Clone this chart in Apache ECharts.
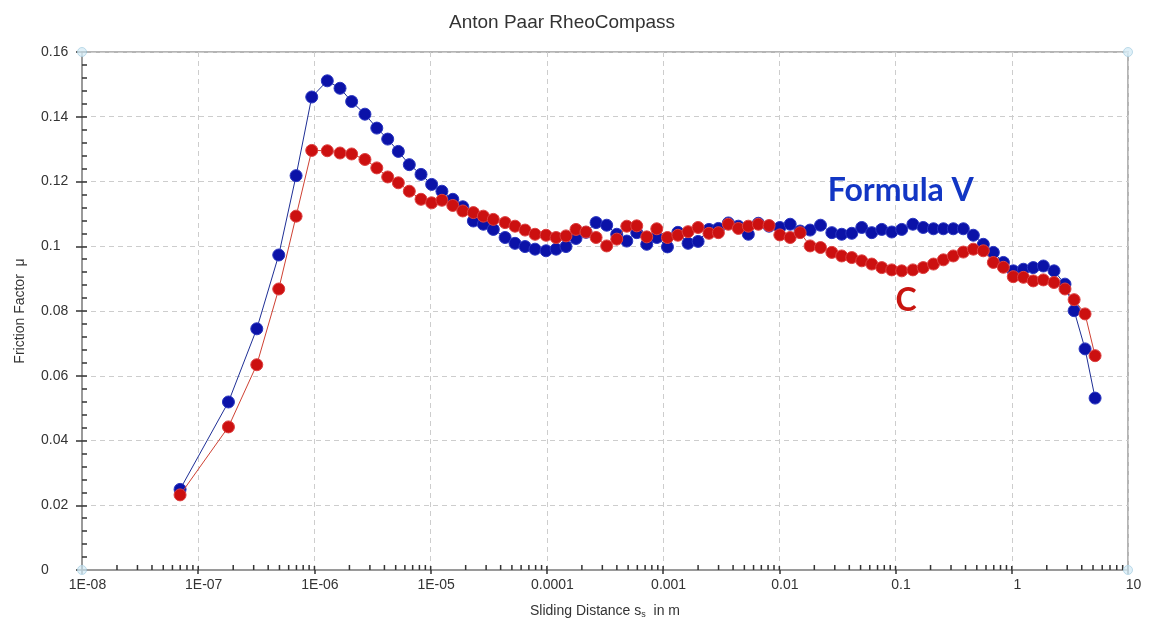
<!DOCTYPE html>
<html>
<head>
<meta charset="utf-8">
<title>Anton Paar RheoCompass</title>
<script src="https://cdn.jsdelivr.net/npm/echarts@6/dist/echarts.min.js"></script>
<style>
  html, body { margin: 0; padding: 0; background: #ffffff; }
  #chart { width: 1152px; height: 624px; }
</style>
</head>
<body>
<div id="chart"></div>
<script>
// Sliding distance s_s in m (log scale)
const distance = [
  6.98e-8, 1.82e-7, 3.19e-7, 4.93e-7, 6.95e-7, 9.48e-7,
  1.29e-6, 1.66e-6, 2.09e-6, 2.72e-6, 3.44e-6, 4.27e-6, 5.27e-6, 6.55e-6, 8.26e-6,
  1.02e-5, 1.25e-5, 1.55e-5, 1.89e-5, 2.33e-5, 2.84e-5, 3.46e-5, 4.37e-5, 5.32e-5, 6.49e-5, 7.91e-5,
  9.84e-5, 1.20e-4, 1.46e-4, 1.78e-4, 2.17e-4, 2.65e-4, 3.27e-4, 3.99e-4, 4.87e-4, 5.93e-4, 7.23e-4, 8.82e-4,
  1.09e-3, 1.34e-3, 1.64e-3, 2.00e-3, 2.48e-3, 2.99e-3, 3.64e-3, 4.44e-3, 5.41e-3, 6.60e-3, 8.16e-3,
  1.01e-2, 1.24e-2, 1.51e-2, 1.84e-2, 2.26e-2, 2.83e-2, 3.44e-2, 4.20e-2, 5.12e-2, 6.24e-2, 7.61e-2, 9.28e-2,
  0.113, 0.141, 0.173, 0.212, 0.258, 0.314, 0.383, 0.467, 0.569, 0.694, 0.847,
  1.03, 1.26, 1.53, 1.87, 2.31, 2.87, 3.44, 4.27, 5.21
];

// Friction factor μ, Formula V
const formulaV = [
  0.0249, 0.0519, 0.0745, 0.0973, 0.1218, 0.1461,
  0.1511, 0.1488, 0.1447, 0.1408, 0.1365, 0.1331, 0.1293, 0.1252, 0.1222,
  0.1191, 0.1170, 0.1145, 0.1122, 0.1078, 0.1068, 0.1052, 0.1027, 0.1009, 0.0999, 0.0991,
  0.0986, 0.0991, 0.0999, 0.1024, 0.1043, 0.1073, 0.1065, 0.1037, 0.1016, 0.1042, 0.1006, 0.1027,
  0.0998, 0.1043, 0.1009, 0.1015, 0.1052, 0.1055, 0.1072, 0.1062, 0.1037, 0.1071, 0.1062,
  0.1058, 0.1068, 0.1047, 0.1050, 0.1065, 0.1042, 0.1037, 0.1040, 0.1058, 0.1042, 0.1052, 0.1044,
  0.1052, 0.1068, 0.1058, 0.1054, 0.1054, 0.1054, 0.1054, 0.1034, 0.1006, 0.0981, 0.0950,
  0.0924, 0.0929, 0.0934, 0.0939, 0.0924, 0.0883, 0.0801, 0.0683, 0.0531
];

// Friction factor μ, C
const formulaC = [
  0.0232, 0.0442, 0.0634, 0.0868, 0.1093, 0.1296,
  0.1295, 0.1288, 0.1285, 0.1268, 0.1242, 0.1214, 0.1196, 0.1170, 0.1145,
  0.1134, 0.1142, 0.1126, 0.1109, 0.1104, 0.1093, 0.1083, 0.1073, 0.1062, 0.1050, 0.1037,
  0.1034, 0.1027, 0.1032, 0.1052, 0.1044, 0.1027, 0.1001, 0.1022, 0.1062, 0.1063, 0.1029, 0.1054,
  0.1027, 0.1034, 0.1045, 0.1058, 0.1040, 0.1042, 0.1068, 0.1055, 0.1062, 0.1068, 0.1064,
  0.1035, 0.1027, 0.1042, 0.1001, 0.0996, 0.0981, 0.0970, 0.0965, 0.0955, 0.0945, 0.0934, 0.0927,
  0.0924, 0.0927, 0.0934, 0.0945, 0.0958, 0.0970, 0.0982, 0.0991, 0.0986, 0.0950, 0.0935,
  0.0906, 0.0904, 0.0893, 0.0896, 0.0888, 0.0868, 0.0835, 0.0791, 0.0662
];

// Decade tick labels from 1E-08 to 10
const xTickLabels = ['1E-08', '1E-07', '1E-06', '1E-05', '0.0001', '0.001', '0.01', '0.1', '1', '10'];
const xMin = 1e-8, xMax = 10;
const yMin = 0, yMax = 0.16, yStep = 0.02;

// In-plot annotations
const annotations = [
  { text: 'Formula V', x: 0.111, y: 0.1172, color: '#1236c4' },
  { text: 'C', x: 0.123, y: 0.0831, color: '#c8140f' }
];

// Minor log ticks (2..9 in every decade) and major decade ticks
const xMinorTicks = [];
const xMajorTicks = [];
for (let e = -8; e <= 1; e++) {
  xMajorTicks.push(Math.pow(10, e));
  if (e < 1) for (let d = 2; d <= 9; d++) xMinorTicks.push(d * Math.pow(10, e));
}

const FONT = '"Liberation Sans", Arial, sans-serif';
const chart = echarts.init(document.getElementById('chart'), null, { renderer: 'canvas' });

const tickSeries = (values, len) => ({
  type: 'custom',
  silent: true,
  clip: false,
  z: 4,
  data: values.map(v => [v, yMin]),
  renderItem: (params, api) => {
    const p = api.coord([api.value(0), api.value(1)]);
    return {
      type: 'line',
      shape: { x1: p[0], y1: p[1], x2: p[0], y2: p[1] - len },
      style: { stroke: '#333333', lineWidth: 1.5 }
    };
  }
});

const option = {
  backgroundColor: '#ffffff',
  animation: false,
  title: {
    text: 'Anton Paar RheoCompass',
    left: 444,
    top: 8,
    textStyle: { fontFamily: FONT, fontSize: 19, fontWeight: 'normal', color: '#333333' }
  },
  grid: {
    left: 82, right: 24, top: 52, bottom: 52,
    show: true,
    borderColor: '#b4b4b4',
    borderWidth: 2
  },
  xAxis: [{
    type: 'log',
    logBase: 10,
    min: xMin,
    max: xMax,
    name: 'Sliding Distance s{sub|s}  in m',
    nameLocation: 'middle',
    nameGap: 33,
    nameTextStyle: {
      fontFamily: FONT, fontSize: 14, color: '#333333',
      rich: { sub: { fontFamily: FONT, fontSize: 9, color: '#333333', verticalAlign: 'bottom', padding: [7, 0, 0, 0] } }
    },
    axisLine: { show: true, lineStyle: { color: '#9a9a9a', width: 2 } },
    axisTick: { show: true, inside: false, length: 4, lineStyle: { color: '#333333', width: 1.5 } },
    axisLabel: {
      fontFamily: FONT, fontSize: 14, color: '#333333', margin: 8,
      padding: [0, 0, 0, 11],
      formatter: v => xTickLabels[Math.round(Math.log10(v)) + 8]
    },
    splitLine: { show: true, lineStyle: { color: '#cdcdcd', type: [5, 4], width: 1 } }
  }],
  yAxis: [{
    type: 'value',
    min: yMin,
    max: yMax,
    interval: yStep,
    name: 'Friction Factor  μ',
    nameLocation: 'middle',
    nameGap: 55,
    nameTextStyle: { fontFamily: FONT, fontSize: 14, color: '#333333' },
    axisLine: { show: true, lineStyle: { color: '#9a9a9a', width: 2 } },
    axisTick: { show: true, inside: false, length: 6, lineStyle: { color: '#333333', width: 1.5 } },
    axisLabel: { fontFamily: FONT, fontSize: 14, color: '#333333', margin: 41, align: 'left' },
    splitLine: { show: true, lineStyle: { color: '#cdcdcd', type: [5, 4], width: 1 } }
  }, {
    type: 'value',
    position: 'left',
    offset: 0,
    min: yMin,
    max: yMax,
    interval: yStep,
    axisLine: { show: false },
    axisTick: { show: true, inside: true, length: 5, lineStyle: { color: '#333333', width: 1.5 } },
    minorTick: { show: true, splitNumber: 5, length: 5, lineStyle: { color: '#333333', width: 1.5 } },
    axisLabel: { show: false },
    splitLine: { show: false }
  }],
  series: [
    tickSeries(xMinorTicks, 5),
    tickSeries(xMajorTicks, 4),
    {
      name: 'Formula V',
      type: 'line',
      data: distance.map((d, i) => [d, formulaV[i]]),
      symbol: 'circle',
      symbolSize: 12,
      z: 5,
      lineStyle: { color: '#1f2f96', width: 1 },
      itemStyle: { color: '#0b12a8', borderColor: '#2a36c0', borderWidth: 1 }
    },
    {
      name: 'C',
      type: 'line',
      data: distance.map((d, i) => [d, formulaC[i]]),
      symbol: 'circle',
      symbolSize: 12,
      z: 6,
      lineStyle: { color: '#cf4133', width: 1 },
      itemStyle: { color: '#cc1010', borderColor: '#dd4040', borderWidth: 1 }
    },
    {
      type: 'scatter',
      silent: true,
      clip: false,
      z: 7,
      symbolSize: 9,
      data: [[xMin, yMin], [xMin, yMax], [xMax, yMin], [xMax, yMax]],
      itemStyle: { color: '#d7ecf6', borderColor: '#aed2e4', borderWidth: 1 }
    }
  ]
};

chart.setOption(option);

// Annotation texts anchored to data coordinates
chart.setOption({
  graphic: annotations.map(a => {
    const p = chart.convertToPixel({ xAxisIndex: 0, yAxisIndex: 0 }, [a.x, a.y]);
    return {
      type: 'text',
      x: p[0],
      y: p[1],
      z: 100,
      style: {
        text: a.text,
        fill: a.color,
        font: 'bold 32px Lato, "Open Sans", sans-serif',
        textAlign: 'center',
        textVerticalAlign: 'middle'
      }
    };
  })
});
</script>
</body>
</html>
